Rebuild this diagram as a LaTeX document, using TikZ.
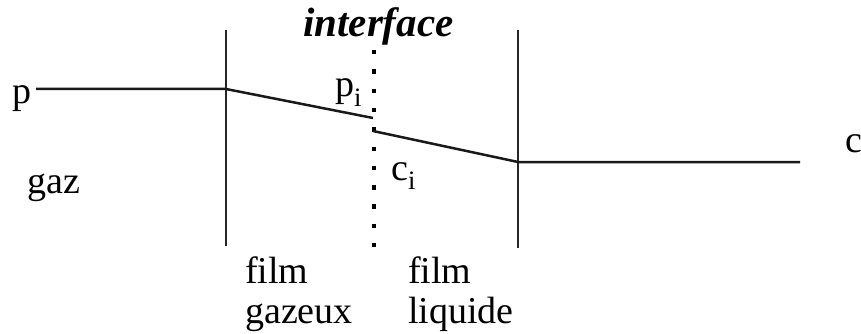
\documentclass[tikz,border=0pt]{standalone}
\usepackage{fontspec}
\setmainfont{Liberation Serif}
\begin{document}
\begin{tikzpicture}[x=1pt,y=-1pt,
  lbl/.style={anchor=base west,inner sep=0pt,font=\fontsize{38}{40}\selectfont},
  wall/.style={line width=2.5pt,black!85},
  prof/.style={line width=2.5pt,black!90},
  iface/.style={line width=4.5pt,dash pattern=on 4.5pt off 14.8pt}]
\useasboundingbox (0,0) rectangle (861,334);
% walls
\coordinate (w1t) at (226,30); \coordinate (w1b) at (226,246);
\coordinate (w2t) at (518,30); \coordinate (w2b) at (518,248);
\coordinate (ift) at (374,50); \coordinate (ifb) at (374,247);
\draw[wall] (w1t) -- (w1b);
\draw[wall] (w2t) -- (w2b);
\draw[iface] (ift) -- (ifb);
% concentration profile
\coordinate (p0) at (36,89);
\coordinate (p1) at (226,89);
\coordinate (p2) at (373,118);
\coordinate (c1) at (373,131);
\coordinate (c2) at (518,162);
\coordinate (c3) at (800,162);
\draw[prof] (p0) -- (p1) -- (p2);
\draw[prof] (c1) -- (c2) -- (c3);
% labels
\node[lbl] (lp) at (12,103) {p};
\node[lbl] (lgaz) at (27,193) {gaz};
\node[lbl] (lc) at (845,152) {c};
\node[lbl] (lpi) at (335,97) {p\textsubscript{i}};
\node[lbl] (lci) at (391,180) {c\textsubscript{i}};
\node[lbl,font=\fontsize{41}{43}\selectfont\bfseries\itshape] (lif) at (303,37) {interface};
\node[lbl] (lfg1) at (245,283) {film};
\node[lbl] (lfg2) at (245,323) {gazeux};
\node[lbl] (lfl1) at (408,283) {film};
\node[lbl] (lfl2) at (408,323) {liquide};
\end{tikzpicture}
\end{document}
